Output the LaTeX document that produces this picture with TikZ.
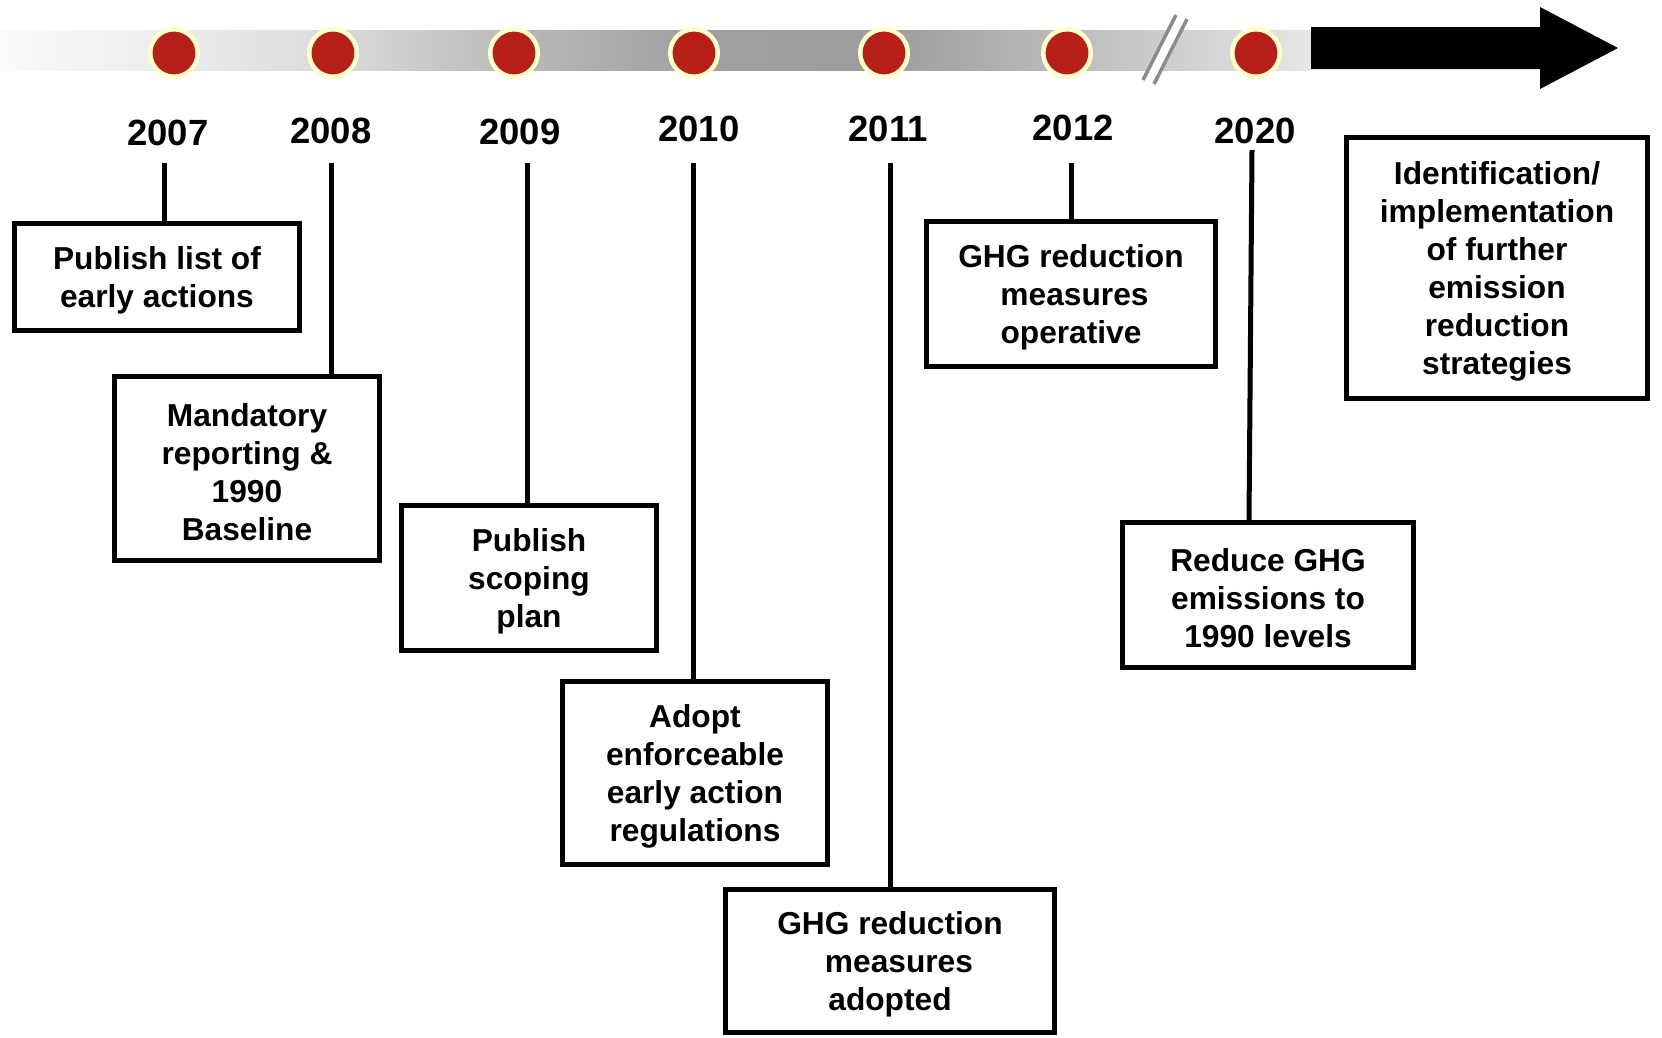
\documentclass[tikz,border=0pt]{standalone}
\usepackage{fontspec}
\setmainfont{Liberation Sans}
\usetikzlibrary{calc}
\definecolor{dotred}{RGB}{183,32,24}
\definecolor{dotring}{RGB}{255,255,204}
\definecolor{breakgray}{RGB}{140,140,140}
\definecolor{ga}{RGB}{251,251,251}
\definecolor{gb}{RGB}{236,236,236}
\definecolor{gc}{RGB}{218,218,218}
\definecolor{gd}{RGB}{184,184,184}
\definecolor{ge}{RGB}{160,160,160}
\definecolor{gf}{RGB}{156,156,156}
\definecolor{gg}{RGB}{188,188,188}
\definecolor{gh}{RGB}{231,231,231}
\pgfdeclarehorizontalshading{barshade}{100bp}{color(0bp)=(ga); color(25bp)=(ga); color(31.48bp)=(gb); color(37.97bp)=(gc); color(44.83bp)=(gd); color(51.7bp)=(ge); color(58.56bp)=(gf); color(65.81bp)=(gg); color(75bp)=(gh); color(100bp)=(gh)}
\newcommand{\topfix}{\rule{0pt}{30pt}}
\begin{document}
\begin{tikzpicture}[x=1pt,y=-1pt,
  boxnode/.style={draw, line width=5pt, align=center, inner sep=0pt,
    font=\fontsize{31.7}{38}\selectfont\bfseries},
  yearlabel/.style={anchor=base, inner sep=0pt, font=\fontsize{36.5}{40}\selectfont\bfseries},
  dotnode/.style={circle, fill=dotred, draw=dotring, line width=4.5pt, inner sep=0pt, minimum size=47.5pt},
  conn/.style={draw, line width=5pt},
  breakline/.style={draw=breakgray, line width=3.5pt}]
\useasboundingbox (0,0) rectangle (1662,1037);

% timeline bar
\shade[shading=barshade] (0,30) rectangle (1311,70);
% break mark
\draw[white, line width=9pt] (1149,82) -- (1181,17);
\draw[breakline] (1143,80) -- (1176,15);
\draw[breakline] (1154,84) -- (1187,19);
% arrow
\fill[black] (1311,27) -- (1540,27) -- (1540,7) -- (1618,48) -- (1540,89) -- (1540,69) -- (1311,69) -- cycle;

% dots
\node[dotnode] (d2007) at (174,53) {};
\node[dotnode] (d2008) at (333,53) {};
\node[dotnode] (d2009) at (514,53) {};
\node[dotnode] (d2010) at (694,53) {};
\node[dotnode] (d2011) at (884,53) {};
\node[dotnode] (d2012) at (1067,53) {};
\node[dotnode] (d2020) at (1256,53) {};

% years
\node[yearlabel] (y2007) at (168,145) {2007};
\node[yearlabel] (y2008) at (331,143) {2008};
\node[yearlabel] (y2009) at (520,144) {2009};
\node[yearlabel] (y2010) at (699,141) {2010};
\node[yearlabel] (y2011) at (888,141) {2011};
\node[yearlabel] (y2012) at (1073,140) {2012};
\node[yearlabel] (y2020) at (1255,143) {2020};

% boxes
\node[boxnode, minimum width=285pt, minimum height=107pt] (b1) at (157,277) {\topfix Publish list of\\early actions};
\node[boxnode, minimum width=265pt, minimum height=184pt] (b2) at (247,468.5) {\topfix Mandatory\\reporting \&\\1990\\Baseline};
\node[boxnode, minimum width=255pt, minimum height=145pt] (b3) at (529,578) {\topfix Publish\\scoping\\plan};
\node[boxnode, minimum width=265pt, minimum height=183pt] (b4) at (695,773) {\topfix Adopt\\enforceable\\early action\\regulations};
\node[boxnode, minimum width=329pt, minimum height=143pt] (b5) at (890,961) {\topfix GHG reduction\\\hspace*{18pt}measures\\adopted};
\node[boxnode, minimum width=289pt, minimum height=145pt] (b6) at (1071,294) {\topfix GHG reduction\\\hspace*{7pt}measures\\operative};
\node[boxnode, minimum width=291pt, minimum height=145pt] (b7) at (1268,595) {\topfix Reduce GHG\\emissions to\\1990 levels};
\node[boxnode, minimum width=301pt, minimum height=261pt] (b8) at (1497,268) {\topfix Identification/\\implementation\\of further\\emission\\reduction\\strategies};

% connectors
\coordinate (c2007) at (164,163);
\coordinate (c2008) at (331,163);
\coordinate (c2009) at (527,163);
\coordinate (c2010) at (693,163);
\coordinate (c2011) at (890,163);
\coordinate (c2012) at (1071,163);
\coordinate (c2020) at (1252,150);
\draw[conn] (c2007) -- (c2007 |- b1.north);
\draw[conn] (c2008) -- (c2008 |- b2.north);
\draw[conn] (c2009) -- (c2009 |- b3.north);
\draw[conn] (c2010) -- (c2010 |- b4.north);
\draw[conn] (c2011) -- (c2011 |- b5.north);
\draw[conn] (c2012) -- (c2012 |- b6.north);
\draw[conn] (c2020) -- ($(b7.north)+(-19,0)$);
\end{tikzpicture}
\end{document}
